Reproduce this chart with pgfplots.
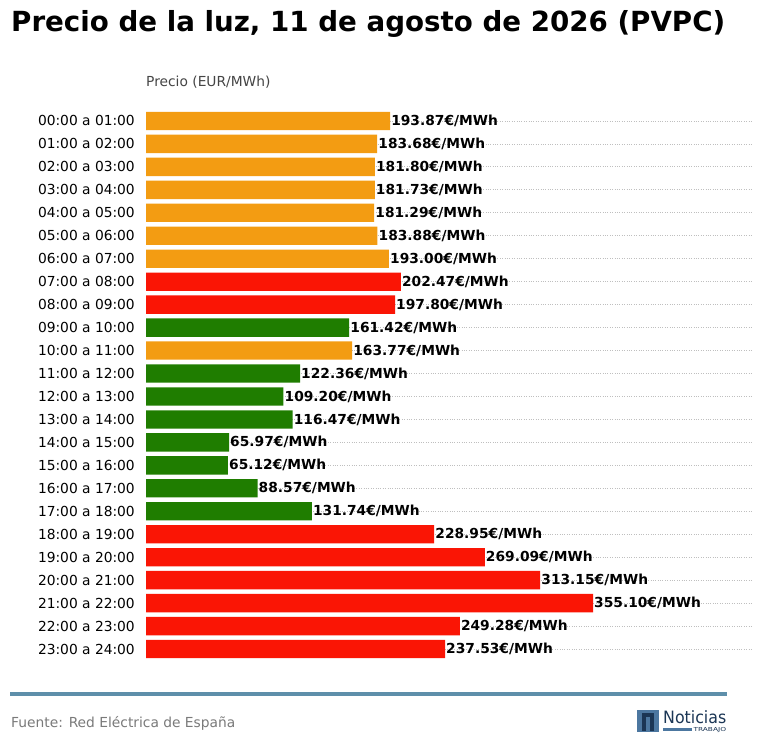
\documentclass[border=0pt]{standalone}
\usepackage{pgfplots}
\pgfplotsset{compat=1.18}
\usepackage{fontspec}
\setmainfont{DejaVu Sans}
\definecolor{cOr}{HTML}{F39C12}
\definecolor{cRe}{HTML}{FA1505}
\definecolor{cGr}{HTML}{1F7D00}
\definecolor{cLine}{HTML}{5E8FAA}
\definecolor{cNavy}{HTML}{1B3655}
\definecolor{cLogo}{HTML}{4C77A0}
\begin{document}
\begin{tikzpicture}[x=1bp,y=1bp]
\path[use as bounding box,fill=white] (0,0) rectangle (759,755);
\node[anchor=base west,inner sep=0pt,font=\fontsize{27.7bp}{32bp}\selectfont\bfseries] at (11,723) {Precio de la luz, 11 de agosto de 2026 (PVPC)};
\node[anchor=west,inner sep=0pt,text=black!73,font=\fontsize{13.8bp}{16bp}\selectfont] at (146,673) {Precio (EUR/MWh)};
\begin{axis}[
  at={(146bp,94.5bp)}, anchor=south west,
  scale only axis, width=606bp, height=551bp,
  xbar, bar width=0.8, bar shift=0pt,
  xmin=0, xmax=481.4, ymin=-0.5, ymax=23.5, y dir=reverse,
  xtick=\empty,
  ytick={0,...,23},
  yticklabels={00:00 a 01:00,01:00 a 02:00,02:00 a 03:00,03:00 a 04:00,04:00 a 05:00,05:00 a 06:00,06:00 a 07:00,07:00 a 08:00,08:00 a 09:00,09:00 a 10:00,10:00 a 11:00,11:00 a 12:00,12:00 a 13:00,13:00 a 14:00,14:00 a 15:00,15:00 a 16:00,16:00 a 17:00,17:00 a 18:00,18:00 a 19:00,19:00 a 20:00,20:00 a 21:00,21:00 a 22:00,22:00 a 23:00,23:00 a 24:00},
  yticklabel style={font=\fontsize{13.8bp}{16bp}\selectfont, inner xsep=0pt, xshift=-11bp},
  major tick length=0pt,
  axis line style={draw=none},
  ymajorgrids, grid style={dotted, black!25, line width=0.8bp},
  point meta=x,
  nodes near coords={\pgfmathprintnumber[fixed,fixed zerofill,precision=2,assume math mode=true]{\pgfplotspointmeta}€/MWh},
  nodes near coords style={anchor=west, inner xsep=1bp, font=\fontsize{13.8bp}{16bp}\selectfont\bfseries, text=black},
]
\addplot[fill=cOr, draw=none] coordinates {(193.87,0) (183.68,1) (181.80,2) (181.73,3) (181.29,4) (183.88,5) (193.00,6) (163.77,10)};
\addplot[fill=cRe, draw=none] coordinates {(202.47,7) (197.80,8) (228.95,18) (269.09,19) (313.15,20) (355.10,21) (249.28,22) (237.53,23)};
\addplot[fill=cGr, draw=none] coordinates {(161.42,9) (122.36,11) (109.20,12) (116.47,13) (65.97,14) (65.12,15) (88.57,16) (131.74,17)};
\end{axis}
\draw[cLine, line width=4bp] (10,61) -- (727,61);
\node[anchor=west,inner sep=0pt,text=black!52,font=\fontsize{13.8bp}{16bp}\selectfont] at (11,32) {Fuente: Red Eléctrica de España};
% logo
\fill[cLogo] (637,22.5) rectangle (659,45);
\draw[cNavy, line width=4bp] (644,24.3) -- (644,39.5) -- (652,39.5) -- (652,24.3);
\node[anchor=base west,inner sep=0pt,text=cNavy,font=\fontsize{17bp}{18bp}\selectfont] at (663,31) {\scalebox{0.93}[1]{Noticias}};
\fill[cLogo] (663.3,23.7) rectangle (691.7,27);
\node[anchor=west,inner sep=0pt,text=cNavy,font=\fontsize{5.5bp}{6bp}\selectfont] at (693.3,25.3) {\scalebox{1.35}[1]{TRABAJO}};
\end{tikzpicture}
\end{document}
